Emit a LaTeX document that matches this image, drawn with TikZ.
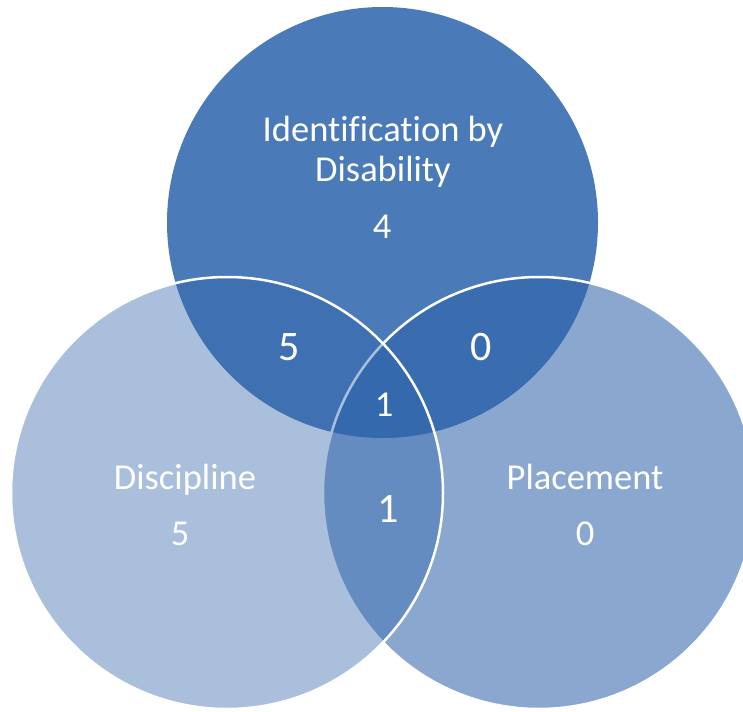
\documentclass[tikz,border=0pt]{standalone}
\usepackage{fontspec}
\setmainfont[Numbers=Lining, Ligatures=NoCommon]{Carlito}
\usepackage{tikz}
\usetikzlibrary{positioning}
\definecolor{topblue}{HTML}{4A7AB8}
\definecolor{vennblue}{HTML}{2F64AA}

\tikzset{
  venn/.style={circle, inner sep=0pt, minimum size=432pt, draw=white, line width=2.5pt},
  label/.style={text=white, anchor=base, align=center, font=\fontsize{36.5}{40}\selectfont},
  biglabel/.style={label, font=\fontsize{42}{46}\selectfont}
}

\begin{document}
\begin{tikzpicture}[x=1pt, y=-1pt]
  \useasboundingbox (0,0) rectangle (743,711);

  % Kruhy
  \node[venn, minimum size=431pt, draw=none, fill=topblue] (disab) at (382.5,222.5) {};
  \node[venn, fill=vennblue, fill opacity=0.56] (place) at (539,493) {};
  \node[venn, fill=vennblue, fill opacity=0.41] (discip) at (227,493) {};

  % Popisky mnozin
  \node[label] (disabtxt) at (383,181.7) {Identification by\\Disability};
  \node[label] (disabnum) at (382,238) {4};
  \node[label] (disciptxt) at (185,489) {Discipline};
  \node[label] (discipnum) at (180,545) {5};
  \node[label] (placetxt) at (585,489) {Placement};
  \node[label] (placenum) at (585,545) {0};

  % Prunik
  \node[biglabel] (dd) at (289,360) {5};
  \node[biglabel] (dp) at (481.5,360) {0};
  \node[label] (all) at (384,416) {1};
  \node[biglabel] (pp) at (388,522) {1};
\end{tikzpicture}
\end{document}
